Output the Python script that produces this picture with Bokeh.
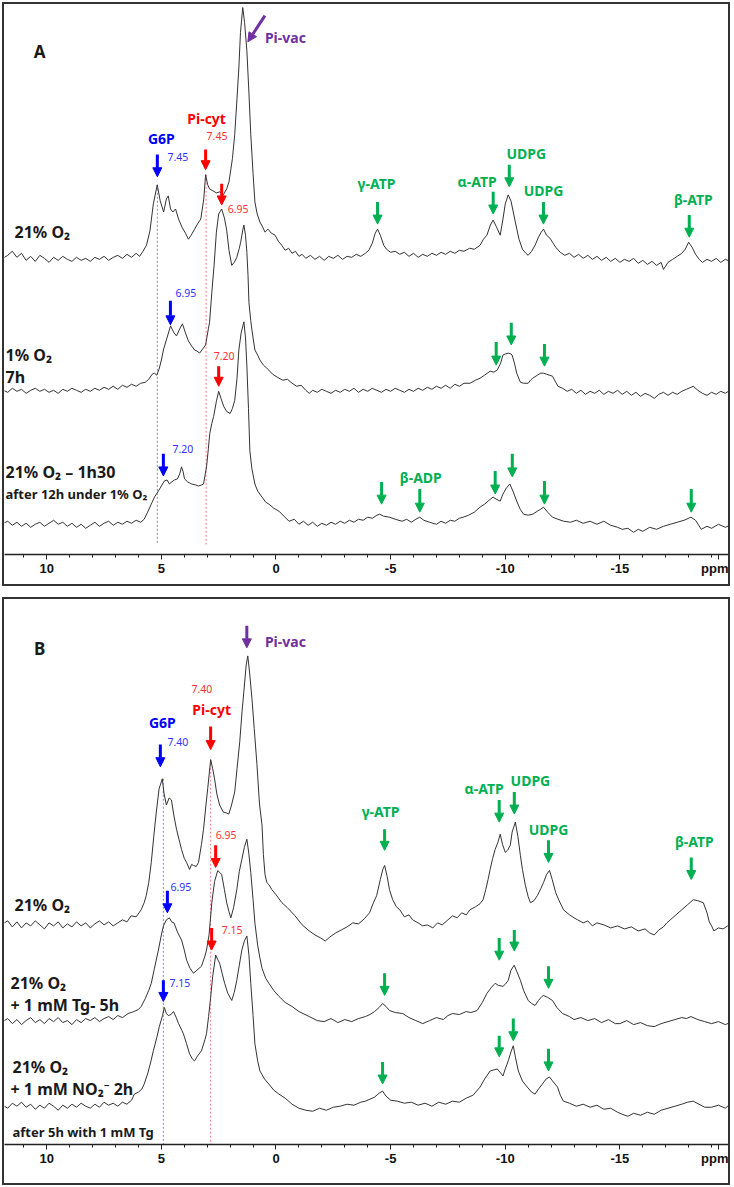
import numpy as np
from bokeh.plotting import figure
from bokeh.models import Range1d, FixedTicker, Label, Arrow, NormalHead
from bokeh.layouts import column
from bokeh.embed import file_html
from bokeh.resources import INLINE

# ---------------- data: 31P NMR spectra (ppm, intensity above own baseline) -------------
a1_ppm = [12.0, 11.7, 11.5, 11.3, 11.1, 10.9, 10.7, 10.5, 10.3, 10.1,
          9.9, 9.7, 9.5, 9.3, 9.1, 8.9, 8.7, 8.5, 8.3, 8.1,
          7.9, 7.7, 7.5, 7.3, 7.1, 6.9, 6.7, 6.5, 6.3, 6.1,
          5.95, 5.8, 5.65, 5.5, 5.35, 5.18, 5.05, 4.9, 4.78, 4.7,
          4.6, 4.5, 4.38, 4.25, 4.1, 3.95, 3.82, 3.7, 3.55, 3.4,
          3.28, 3.15, 3.07, 2.98, 2.9, 2.75, 2.6, 2.45, 2.3, 2.15,
          2.05, 1.9, 1.8, 1.7, 1.62, 1.55, 1.45, 1.37, 1.27, 1.18,
          1.1, 1.0, 0.92, 0.82, 0.7, 0.6, 0.48, 0.35, 0.2, 0.04,
          -0.1, -0.25, -0.4, -0.55, -0.7, -0.85, -1.0, -1.14, -1.3, -1.5,
          -1.7, -1.9, -2.1, -2.3, -2.5, -2.7, -2.9, -3.1, -3.3, -3.5,
          -3.7, -3.9, -4.05, -4.2, -4.33, -4.43, -4.55, -4.7, -4.82, -5.0,
          -5.2, -5.4, -5.6, -5.8, -6.0, -6.2, -6.4, -6.6, -6.8, -7.0,
          -7.2, -7.4, -7.6, -7.8, -8.0, -8.2, -8.45, -8.65, -8.9, -9.05,
          -9.2, -9.35, -9.47, -9.6, -9.78, -9.9, -10.0, -10.13, -10.25, -10.35,
          -10.44, -10.6, -10.75, -10.9, -11.0, -11.15, -11.3, -11.45, -11.57, -11.67,
          -11.8, -11.95, -12.06, -12.2, -12.4, -12.6, -12.8, -13.0, -13.2, -13.4,
          -13.6, -13.8, -14.0, -14.2, -14.4, -14.6, -14.8, -15.0, -15.2, -15.4,
          -15.6, -15.8, -16.0, -16.2, -16.4, -16.6, -16.8, -16.9, -17.1, -17.3,
          -17.5, -17.7, -17.85, -18.0, -18.15, -18.3, -18.46, -18.6, -18.8, -19.0,
          -19.2, -19.4, -19.6, -19.8, -20.0]
a1_int = [0, 4, 8, 2, 6, -1, 3, -2, 4, 1,
          -3, 2, -1, 3, 0, -2, 2, -1, 1, -2,
          2, 0, 3, -1, 2, 4, 1, 5, 2, 6,
          3, 8, 14, 28, 55, 74, 58, 47, 60, 63,
          50, 47, 50, 40, 32, 26, 20, 24, 30, 36,
          40, 60, 84, 74, 70, 68, 66, 67, 64, 70,
          77, 100, 124, 160, 190, 225, 250, 235, 207, 165,
          124, 85, 57, 45, 37, 33, 27, 30, 26, 24,
          18, 14, 9, 11, 6, 8, 3, 5, 1, 4,
          0, 3, -1, 3, 1, 4, 0, 3, 2, 5,
          3, 6, 9, 16, 26, 30, 24, 14, 10, 7,
          8, 5, 7, 3, 6, 2, 5, 3, 6, 4,
          7, 5, 8, 6, 9, 8, 11, 10, 14, 20,
          24, 34, 39, 33, 24, 40, 55, 64, 58, 47,
          37, 20, 10, 6, 4, 8, 14, 22, 27, 30,
          24, 21, 17, 12, 7, 4, 6, 2, 5, 1,
          4, 0, 3, -1, 2, -2, 1, -3, 0, -2,
          1, -4, -1, -5, -2, -6, -3, -10, -3, 0,
          3, 6, 10, 17, 12, 5, 0, -3, 0, -2,
          1, -3, 0, -2, -4]

a2_ppm = [12.0, 11.7, 11.5, 11.3, 11.1, 10.9, 10.7, 10.5, 10.3, 10.1,
          9.9, 9.7, 9.5, 9.3, 9.1, 8.9, 8.7, 8.5, 8.3, 8.1,
          7.9, 7.7, 7.5, 7.3, 7.1, 6.9, 6.7, 6.5, 6.3, 6.1,
          5.9, 5.7, 5.55, 5.4, 5.3, 5.2, 5.1, 5.0, 4.9, 4.78,
          4.6, 4.45, 4.34, 4.2, 4.08, 3.95, 3.82, 3.68, 3.55, 3.45,
          3.33, 3.2, 3.07, 2.95, 2.9, 2.8, 2.7, 2.6, 2.5, 2.37,
          2.25, 2.15, 2.05, 1.93, 1.82, 1.71, 1.6, 1.54, 1.45, 1.4,
          1.33, 1.27, 1.22, 1.18, 1.1, 1.05, 0.92, 0.8, 0.7, 0.55,
          0.4, 0.31, 0.15, -0.13, -0.3, -0.5, -0.7, -0.9, -1.1, -1.3,
          -1.45, -1.6, -1.8, -2.0, -2.2, -2.4, -2.6, -2.8, -3.0, -3.2,
          -3.4, -3.6, -3.8, -4.0, -4.2, -4.4, -4.6, -4.8, -5.0, -5.2,
          -5.4, -5.6, -5.8, -6.0, -6.2, -6.4, -6.6, -6.8, -7.0, -7.2,
          -7.4, -7.6, -7.8, -8.0, -8.2, -8.46, -8.7, -8.9, -9.1, -9.34,
          -9.5, -9.65, -9.8, -9.9, -10.0, -10.13, -10.25, -10.3, -10.4, -10.5,
          -10.66, -10.8, -11.0, -11.1, -11.2, -11.4, -11.55, -11.67, -11.8, -12.06,
          -12.2, -12.3, -12.5, -12.7, -12.9, -13.1, -13.3, -13.5, -13.7, -13.9,
          -14.1, -14.3, -14.5, -14.7, -14.9, -15.1, -15.3, -15.5, -15.7, -15.9,
          -16.1, -16.3, -16.5, -16.7, -16.9, -17.1, -17.3, -17.5, -17.7, -17.9,
          -18.1, -18.2, -18.4, -18.6, -18.8, -19.0, -19.2, -19.4, -19.6, -19.8,
          -20.0]
a2_int = [2, -1, 3, 0, 2, -2, 1, 3, 0, 2,
          -1, 1, -2, 2, 0, 3, 1, -1, 2, 0,
          3, 1, 4, 2, 5, 2, 6, 4, 7, 5,
          8, 9, 12, 17, 18, 16, 22, 31, 42, 51,
          65, 58, 55, 62, 67, 58, 50, 45, 41, 40,
          38, 42, 46, 62, 68, 98, 125, 158, 176, 181,
          172, 160, 140, 125, 128, 133, 142, 148, 160, 165,
          155, 138, 115, 88, 70, 61, 41, 36, 31, 26,
          23, 21, 17, 13, 11, 12, 8, 5, 6, 1,
          -2, 1, -1, 2, 0, -2, 1, -1, 2, 0,
          3, -1, 2, 0, 3, 1, -1, 2, 0, 3,
          1, -1, 2, 0, 3, 1, 4, 2, 5, 3,
          6, 3, 7, 5, 8, 8, 11, 13, 16, 20,
          19, 21, 28, 36, 37, 38, 37, 36, 28, 18,
          9, 8, 8, 11, 13, 16, 18, 18, 17, 15,
          9, 5, 3, 0, 2, -2, 1, -3, 0, -2,
          1, -3, 0, -2, 1, -3, 0, -4, -1, -5,
          -2, -4, -7, -3, -1, -4, -1, -3, 0, 2,
          4, 5, 1, -2, -4, -1, -3, 0, -2, 1,
          -1]

a3_ppm = [12.0, 11.7, 11.5, 11.3, 11.1, 10.9, 10.7, 10.5, 10.3, 10.1,
          9.9, 9.7, 9.5, 9.3, 9.1, 8.9, 8.7, 8.5, 8.3, 8.1,
          7.9, 7.7, 7.5, 7.3, 7.1, 6.9, 6.7, 6.5, 6.3, 6.1,
          5.9, 5.75, 5.6, 5.44, 5.3, 5.13, 5.0, 4.87, 4.75, 4.65,
          4.55, 4.43, 4.3, 4.2, 4.12, 4.05, 3.99, 3.85, 3.68, 3.5,
          3.38, 3.25, 3.16, 3.03, 2.95, 2.89, 2.8, 2.72, 2.6, 2.5,
          2.4, 2.28, 2.15, 2.0, 1.9, 1.8, 1.7, 1.62, 1.52, 1.4,
          1.33, 1.27, 1.2, 1.14, 1.05, 0.92, 0.8, 0.61, 0.45, 0.31,
          0.1, -0.13, -0.35, -0.57, -0.8, -1.0, -1.2, -1.4, -1.6, -1.8,
          -2.0, -2.2, -2.4, -2.6, -2.8, -3.0, -3.2, -3.4, -3.6, -3.8,
          -4.0, -4.2, -4.4, -4.52, -4.7, -4.96, -5.2, -5.5, -5.7, -5.9,
          -6.1, -6.27, -6.45, -6.7, -7.0, -7.2, -7.4, -7.6, -7.8, -8.0,
          -8.16, -8.4, -8.65, -8.9, -9.1, -9.3, -9.47, -9.6, -9.78, -9.9,
          -10.05, -10.2, -10.35, -10.5, -10.65, -10.8, -11.0, -11.2, -11.4, -11.55,
          -11.67, -11.85, -12.06, -12.3, -12.55, -12.85, -13.1, -13.4, -13.7, -14.0,
          -14.3, -14.6, -14.9, -15.1, -15.35, -15.6, -15.8, -16.0, -16.3, -16.6,
          -16.9, -17.2, -17.5, -17.8, -18.1, -18.3, -18.55, -18.8, -19.0, -19.3,
          -19.6, -19.8, -20.0]
a3_int = [0, 3, -1, 2, -2, 1, -3, 0, 2, -2,
          1, 4, 0, 2, -2, 1, -3, 0, -4, -1,
          2, -2, 1, 3, -1, 2, 0, 3, 1, 4,
          2, 5, 12, 20, 27, 33, 38, 43, 44, 40,
          42, 44, 45, 50, 57, 52, 45, 42, 40, 39,
          38, 39, 40, 57, 75, 90, 100, 107, 122, 132,
          125, 117, 112, 110, 115, 123, 145, 173, 190, 201,
          185, 157, 115, 73, 55, 40, 33, 27, 22, 20,
          16, 13, 8, 3, 5, 0, 3, -1, 2, -2,
          1, -1, 2, 0, 3, 1, 4, 2, 5, 4,
          7, 6, 9, 10, 8, 7, 5, 3, 5, 2,
          5, 7, 4, 2, 0, 3, 1, 4, 3, 6,
          7, 9, 12, 17, 20, 24, 27, 25, 23, 30,
          36, 40, 32, 23, 15, 10, 9, 10, 13, 15,
          17, 12, 7, 5, 3, 2, 4, 1, 3, 0,
          3, -1, -3, -5, -4, -8, -5, -7, -3, -5,
          -2, 0, 2, 4, 7, 4, -5, -2, -4, 0,
          -3, -1, -5]

b1_ppm = [12.0, 11.7, 11.5, 11.3, 11.1, 10.9, 10.7, 10.5, 10.3, 10.1,
          9.9, 9.7, 9.5, 9.3, 9.1, 8.9, 8.7, 8.5, 8.3, 8.1,
          7.9, 7.7, 7.5, 7.3, 7.1, 6.9, 6.7, 6.5, 6.32, 6.1,
          5.88, 5.75, 5.66, 5.55, 5.44, 5.33, 5.22, 5.1, 4.96, 4.88,
          4.78, 4.66, 4.56, 4.45, 4.34, 4.2, 4.12, 4.0, 3.9, 3.77,
          3.68, 3.6, 3.48, 3.38, 3.25, 3.16, 3.05, 2.98, 2.85, 2.76,
          2.68, 2.58, 2.46, 2.3, 2.15, 2.06, 1.95, 1.8, 1.7, 1.58,
          1.48, 1.4, 1.3, 1.23, 1.15, 1.05, 0.95, 0.83, 0.72, 0.61,
          0.55, 0.48, 0.4, 0.31, 0.18, 0.0, -0.26, -0.5, -0.83, -1.14,
          -1.45, -1.7, -1.95, -2.15, -2.35, -2.6, -2.85, -3.1, -3.35, -3.6,
          -3.85, -4.08, -4.25, -4.39, -4.55, -4.66, -4.74, -4.85, -4.95, -5.09,
          -5.25, -5.4, -5.6, -5.8, -5.96, -6.2, -6.4, -6.6, -6.84, -7.05,
          -7.25, -7.5, -7.7, -7.9, -8.1, -8.3, -8.46, -8.7, -8.9, -9.03,
          -9.15, -9.25, -9.34, -9.45, -9.56, -9.68, -9.78, -9.88, -10.0, -10.1,
          -10.22, -10.3, -10.44, -10.55, -10.66, -10.75, -10.88, -11.0, -11.1, -11.25,
          -11.4, -11.55, -11.67, -11.8, -11.93, -12.05, -12.2, -12.35, -12.54, -12.8,
          -13.0, -13.16, -13.4, -13.6, -13.8, -14.0, -14.3, -14.6, -14.9, -15.2,
          -15.5, -15.8, -16.1, -16.3, -16.5, -16.7, -16.9, -17.05, -17.2, -17.45,
          -17.7, -17.95, -18.2, -18.4, -18.64, -18.8, -18.9, -19.0, -19.1, -19.3,
          -19.5, -19.7, -19.9, -20.0]
b1_int = [0, 4, -2, 3, -3, 2, -1, 4, 0, -4,
          2, -1, 3, -3, 1, -2, 3, -1, 2, -3,
          1, 4, 0, 3, -1, 2, 5, 3, 9, 8,
          15, 22, 29, 42, 62, 88, 112, 135, 145, 130,
          119, 126, 124, 108, 95, 82, 75, 66, 62, 55,
          60, 59, 58, 62, 80, 95, 120, 135, 164, 155,
          145, 130, 119, 112, 111, 110, 118, 132, 155, 182,
          212, 232, 258, 267, 250, 225, 195, 159, 120, 99,
          70, 50, 42, 40, 35, 30, 22, 17, 9, 0,
          -6, -10, -13, -16, -12, -8, -5, -2, 2, 1,
          6, 12, 22, 29, 45, 55, 59, 48, 35, 25,
          18, 15, 8, 10, 5, 2, -1, 0, -3, 2,
          0, 5, 9, 7, 12, 10, 15, 18, 21, 25,
          35, 45, 55, 66, 75, 82, 90, 80, 72, 74,
          79, 92, 102, 88, 69, 55, 39, 28, 22, 24,
          29, 36, 42, 50, 54, 45, 32, 24, 15, 10,
          7, 5, 2, 4, -1, 2, 0, -3, -1, -4,
          -2, -6, -4, -8, -10, -5, -2, 2, 5, 10,
          15, 20, 25, 24, 22, 12, 3, -1, -6, -3,
          -4, -1, 0, -2]

b2_ppm = [12.0, 11.7, 11.5, 11.3, 11.1, 10.9, 10.7, 10.5, 10.3, 10.1,
          9.9, 9.7, 9.5, 9.3, 9.1, 8.9, 8.7, 8.5, 8.3, 8.1,
          7.9, 7.7, 7.5, 7.3, 7.1, 6.9, 6.7, 6.45, 6.2, 6.0,
          5.88, 5.7, 5.55, 5.44, 5.3, 5.13, 5.0, 4.91, 4.78, 4.65,
          4.55, 4.45, 4.3, 4.12, 4.0, 3.9, 3.75, 3.6, 3.45, 3.25,
          3.1, 3.03, 2.92, 2.8, 2.68, 2.54, 2.45, 2.37, 2.25, 2.15,
          2.05, 1.97, 1.85, 1.71, 1.6, 1.49, 1.38, 1.27, 1.18, 1.1,
          1.0, 0.92, 0.8, 0.7, 0.61, 0.45, 0.31, 0.1, -0.13, -0.4,
          -0.7, -1.0, -1.45, -1.8, -2.1, -2.4, -2.7, -3.0, -3.3, -3.6,
          -3.9, -4.1, -4.3, -4.5, -4.65, -4.8, -4.95, -5.2, -5.53, -5.8,
          -6.1, -6.4, -6.7, -7.0, -7.3, -7.5, -7.7, -8.0, -8.3, -8.5,
          -8.77, -9.0, -9.2, -9.4, -9.56, -9.7, -9.9, -10.0, -10.13, -10.25,
          -10.39, -10.5, -10.66, -10.8, -11.0, -11.15, -11.3, -11.45, -11.6, -11.67,
          -11.85, -12.06, -12.25, -12.5, -12.8, -13.0, -13.3, -13.6, -13.9, -14.2,
          -14.5, -14.8, -15.0, -15.3, -15.6, -15.9, -16.2, -16.5, -16.8, -17.1,
          -17.4, -17.7, -17.9, -18.1, -18.4, -18.7, -19.0, -19.3, -19.6, -19.8,
          -20.0]
b2_int = [-2, 2, -3, 1, -4, 0, 3, -2, 1, -3,
          2, -1, 3, -2, 0, -4, 1, -2, 2, 0,
          3, -1, 2, 4, 1, 5, 3, 7, 9, 11,
          14, 22, 30, 37, 52, 70, 85, 94, 100, 102,
          98, 97, 88, 80, 70, 60, 52, 47, 50, 54,
          64, 70, 85, 117, 138, 149, 147, 145, 130, 117,
          108, 102, 112, 130, 148, 160, 172, 180, 165, 147,
          120, 97, 75, 62, 52, 42, 37, 30, 24, 18,
          14, 9, 4, 0, -1, 2, -2, 1, -1, 2,
          4, 6, 9, 13, 17, 14, 10, 8, 7, 3,
          0, -3, 0, 3, 1, 5, 7, 6, 9, 8,
          10, 18, 27, 33, 37, 35, 34, 36, 40, 50,
          55, 49, 40, 30, 20, 17, 15, 20, 24, 25,
          23, 20, 13, 7, 4, 1, 3, 0, 2, -2,
          1, -3, -3, 0, -4, -2, -5, -6, -3, -1,
          1, 3, 2, 4, 1, -1, -3, -1, -4, -2,
          -5]

b3_ppm = [12.0, 11.7, 11.5, 11.3, 11.1, 10.9, 10.7, 10.5, 10.3, 10.1,
          9.9, 9.7, 9.5, 9.3, 9.1, 8.9, 8.7, 8.5, 8.3, 8.1,
          7.9, 7.7, 7.5, 7.3, 7.1, 6.9, 6.7, 6.5, 6.3, 6.18,
          6.0, 5.85, 5.75, 5.6, 5.45, 5.35, 5.2, 5.09, 4.95, 4.87,
          4.78, 4.7, 4.58, 4.47, 4.35, 4.25, 4.1, 4.04, 3.9, 3.77,
          3.65, 3.55, 3.42, 3.25, 3.1, 3.03, 2.94, 2.85, 2.76, 2.63,
          2.55, 2.46, 2.35, 2.24, 2.1, 1.93, 1.82, 1.71, 1.6, 1.49,
          1.38, 1.27, 1.18, 1.1, 1.0, 0.92, 0.8, 0.7, 0.5, 0.31,
          0.1, -0.13, -0.4, -0.7, -1.0, -1.3, -1.6, -1.9, -2.2, -2.5,
          -2.8, -3.1, -3.4, -3.7, -3.9, -4.1, -4.3, -4.5, -4.65, -4.8,
          -5.0, -5.3, -5.6, -5.9, -6.2, -6.5, -6.8, -7.1, -7.4, -7.7,
          -8.0, -8.3, -8.6, -8.9, -9.1, -9.34, -9.5, -9.65, -9.8, -9.9,
          -10.0, -10.13, -10.25, -10.35, -10.45, -10.57, -10.75, -10.96, -11.15, -11.3,
          -11.45, -11.62, -11.78, -11.93, -12.1, -12.28, -12.4, -12.54, -12.8, -13.1,
          -13.4, -13.7, -14.0, -14.3, -14.6, -14.9, -15.1, -15.35, -15.6, -15.9,
          -16.2, -16.5, -16.8, -17.1, -17.4, -17.7, -17.95, -18.2, -18.45, -18.7,
          -19.0, -19.3, -19.6, -19.8, -20.0]
b3_int = [2, -2, 3, 0, 4, -1, 2, -3, 1, -2,
          3, 0, -4, 1, -2, 2, -1, 3, 0, -2,
          2, -1, 4, 1, 3, 0, 4, 2, 6, 12,
          14, 17, 22, 32, 45, 55, 68, 79, 90, 98,
          92, 90, 91, 94, 88, 82, 75, 72, 62, 52,
          47, 45, 50, 55, 66, 72, 89, 108, 129, 150,
          146, 142, 132, 122, 112, 105, 113, 125, 140, 155,
          164, 169, 150, 122, 90, 62, 45, 35, 27, 22,
          16, 12, 8, 2, -2, -4, -5, -2, -4, -1,
          0, 2, 1, 4, 5, 7, 9, 13, 15, 10,
          6, 5, 3, 4, 1, 3, 0, 4, 2, 5,
          4, 8, 11, 19, 27, 35, 36, 37, 33, 30,
          37, 45, 54, 60, 48, 35, 25, 19, 14, 12,
          17, 22, 27, 29, 24, 19, 11, 5, 3, 0,
          2, -1, 1, -3, -2, -6, -8, -10, -7, -9,
          -6, -8, -4, -2, 0, 2, 4, 5, 2, -1,
          -1, 1, -2, 2, 2]

TICK_VALUES = [10, 5, 0, -5, -10, -15, -19.3]
TICK_LABELS = ["10", "5", "0", "-5", "-10", "-15", "ppm"]
MINOR_TICKS = list(range(11, -20, -1))

# ---------------- layout / styling (positions in reference pixels) ----------------
GREEN, RED, BLUE, PURPLE = "#00b050", "#ff0000", "#0000ff", "#7030a0"
NUM_BLUE, NUM_RED = "#3030ff", "#ff3030"
INK = "#1a1a1a"
FONT = "Noto Sans"

A_OFFSETS = [293, 162, 30]
B_OFFSETS = [218, 123, 38]


def xpx(x):
    return (274.0 - x) / 22.8


A_LABELS = [
    ("A", 39, 51, INK, 17, "bold", "center"),
    ("Pi-vac", 263, 37, PURPLE, 14, "bold", "left"),
    ("G6P", 160, 137, BLUE, 14, "bold", "center"),
    ("7.45", 166, 155, NUM_BLUE, 10.5, "normal", "left"),
    ("Pi-cyt", 205, 117, RED, 14, "bold", "center"),
    ("7.45", 205, 135, NUM_RED, 10.5, "normal", "left"),
    ("6.95", 226, 207, NUM_RED, 10.5, "normal", "left"),
    ("6.95", 174, 290, NUM_BLUE, 10.5, "normal", "left"),
    ("7.20", 212, 353, NUM_RED, 10.5, "normal", "left"),
    ("7.20", 171, 445, NUM_BLUE, 10.5, "normal", "left"),
    ("γ-ATP", 374, 182, GREEN, 14, "bold", "center"),
    ("α-ATP", 474, 180, GREEN, 14, "bold", "center"),
    ("UDPG", 523, 152, GREEN, 14, "bold", "center"),
    ("UDPG", 540, 189, GREEN, 14, "bold", "center"),
    ("β-ATP", 689, 198, GREEN, 14, "bold", "center"),
    ("β-ADP", 418, 474, GREEN, 14, "bold", "center"),
    ("21% O₂", 14, 230, INK, 16, "bold", "left"),
    ("1% O₂", 5, 352, INK, 16, "bold", "left"),
    ("7h", 5, 374, INK, 16, "bold", "left"),
    ("21% O₂ – 1h30", 5, 468, INK, 16, "bold", "left"),
    ("after 12h under 1% O₂", 5, 490, INK, 13, "bold", "left"),
]
A_ARROWS = [
    (156, 153, 175, BLUE), (204, 148, 168, RED), (220, 182, 203, RED),
    (169, 298, 322, BLUE), (217, 363, 383, RED), (162, 450, 472, BLUE),
    (375, 200, 222, GREEN), (490, 190, 212, GREEN), (506, 163, 185, GREEN),
    (540, 200, 222, GREEN), (685, 213, 235, GREEN),
    (493, 339, 362, GREEN), (508, 320, 342, GREEN), (541, 341, 363, GREEN),
    (379, 478, 500, GREEN), (417, 485, 508, GREEN), (492, 467, 490, GREEN),
    (509, 450, 473, GREEN), (541, 477, 500, GREEN), (687, 485, 508, GREEN),
]
A_DIAG = [(263, 15, 246, 41, PURPLE)]
A_DOTTED = [(156, 183, 540, "#7f7fff"), (204.5, 173, 540, "#ff7f7f")]

B_LABELS = [
    ("B", 39, 648, INK, 17, "bold", "center"),
    ("Pi-vac", 263, 641, PURPLE, 14, "bold", "left"),
    ("7.40", 190, 688, NUM_RED, 10.5, "normal", "left"),
    ("Pi-cyt", 210, 708, RED, 14, "bold", "center"),
    ("G6P", 161, 721, BLUE, 14, "bold", "center"),
    ("7.40", 166, 740, NUM_BLUE, 10.5, "normal", "left"),
    ("6.95", 214, 833, NUM_RED, 10.5, "normal", "left"),
    ("6.95", 169, 884, NUM_BLUE, 10.5, "normal", "left"),
    ("7.15", 220, 927, NUM_RED, 10.5, "normal", "left"),
    ("7.15", 168, 980, NUM_BLUE, 10.5, "normal", "left"),
    ("γ-ATP", 378, 809, GREEN, 14, "bold", "center"),
    ("α-ATP", 481, 787, GREEN, 14, "bold", "center"),
    ("UDPG", 527, 779, GREEN, 14, "bold", "center"),
    ("UDPG", 545, 827, GREEN, 14, "bold", "center"),
    ("β-ATP", 690, 839, GREEN, 14, "bold", "center"),
    ("21% O₂", 14, 902, INK, 16, "bold", "left"),
    ("21% O₂", 10, 980, INK, 16, "bold", "left"),
    ("+ 1 mM Tg- 5h", 10, 1002, INK, 16, "bold", "left"),
    ("21% O₂", 12, 1063, INK, 16, "bold", "left"),
    ("+ 1 mM NO₂⁻ 2h", 10, 1085, INK, 16, "bold", "left"),
    ("after 5h with 1 mM Tg", 12, 1128, INK, 13, "bold", "left"),
]
B_ARROWS = [
    (245, 625, 647, PURPLE), (209, 725, 748, RED), (159, 743, 765, BLUE),
    (214, 843, 865, RED), (166, 888, 910, BLUE), (210, 925, 947, RED),
    (162, 977, 998, BLUE),
    (382, 827, 848, GREEN), (496, 798, 820, GREEN), (511, 790, 812, GREEN),
    (545, 838, 860, GREEN), (687, 855, 877, GREEN),
    (382, 970, 992, GREEN), (496, 935, 957, GREEN), (511, 927, 948, GREEN),
    (545, 963, 985, GREEN),
    (380, 1058, 1080, GREEN), (496, 1032, 1053, GREEN), (510, 1015, 1037, GREEN),
    (545, 1045, 1067, GREEN),
]
B_DOTTED = [(162, 777, 1140, "#7f7fff"), (209, 758, 1140, "#ff7f7f")]


def make_panel(height, axis_px, top_px, min_bottom, traces, offsets,
               labels, arrows, diag, dotted):
    p = figure(width=728, height=height,
               x_range=Range1d(xpx(4), xpx(728)),
               y_range=Range1d(0, axis_px - top_px),
               output_backend="svg", toolbar_location=None,
               y_axis_location=None,
               min_border_left=0, min_border_right=0,
               min_border_top=0, min_border_bottom=min_bottom,
               outline_line_color=None,
               background_fill_color="white", border_fill_color="white")
    p.styles = {"border": "2px solid #333333"}
    p.grid.visible = False
    ax = p.xaxis[0]
    ax.ticker = FixedTicker(ticks=TICK_VALUES, minor_ticks=MINOR_TICKS)
    ax.major_label_overrides = dict(zip(TICK_VALUES, TICK_LABELS))
    ax.axis_line_color = "#222222"
    ax.axis_line_width = 1.5
    ax.major_tick_line_color = "#222222"
    ax.minor_tick_line_color = "#222222"
    ax.major_tick_in = 0
    ax.major_tick_out = 5
    ax.minor_tick_in = 0
    ax.minor_tick_out = 3
    ax.major_label_standoff = 1
    ax.major_label_text_font = "Liberation Sans"
    ax.major_label_text_font_style = "bold"
    ax.major_label_text_font_size = "13px"
    ax.major_label_text_color = "#111111"

    for (x, y0, y1, c) in dotted:
        p.segment(x0=[xpx(x)], y0=[axis_px - y0], x1=[xpx(x)], y1=[axis_px - y1],
                  line_color=c, line_width=1, line_dash="2 2")

    for (ppm, vals), off in zip(traces, offsets):
        p.line(ppm, np.asarray(vals, dtype=float) + off,
               line_color="#333333", line_width=1)

    for (x, yt, yb, c) in arrows:
        p.add_layout(Arrow(end=NormalHead(size=9, fill_color=c, line_color=c, line_width=1),
                           x_start=xpx(x), y_start=axis_px - yt,
                           x_end=xpx(x), y_end=axis_px - yb,
                           line_color=c, line_width=3))
    for (x0, y0, x1, y1, c) in diag:
        p.add_layout(Arrow(end=NormalHead(size=9, fill_color=c, line_color=c, line_width=1),
                           x_start=xpx(x0), y_start=axis_px - y0,
                           x_end=xpx(x1), y_end=axis_px - y1,
                           line_color=c, line_width=3))

    for (t, x, y, c, s, w, al) in labels:
        p.add_layout(Label(x=xpx(x), y=axis_px - y, text=t, text_color=c,
                           text_font=FONT, text_font_size=f"{s}px",
                           text_font_style=w, text_align=al,
                           text_baseline="middle"))
    return p


pA = make_panel(584, 550, 4, 34,
                [(a1_ppm, a1_int), (a2_ppm, a2_int), (a3_ppm, a3_int)],
                A_OFFSETS, A_LABELS, A_ARROWS, A_DIAG, A_DOTTED)
pB = make_panel(588, 1140, 599, 43,
                [(b1_ppm, b1_int), (b2_ppm, b2_int), (b3_ppm, b3_int)],
                B_OFFSETS, B_LABELS, B_ARROWS, [], B_DOTTED)

layout = column(pA, pB, spacing=11, margin=(2, 0, 0, 2))
open("out.html", "w").write(file_html(layout, INLINE, title="31P NMR spectra"))
